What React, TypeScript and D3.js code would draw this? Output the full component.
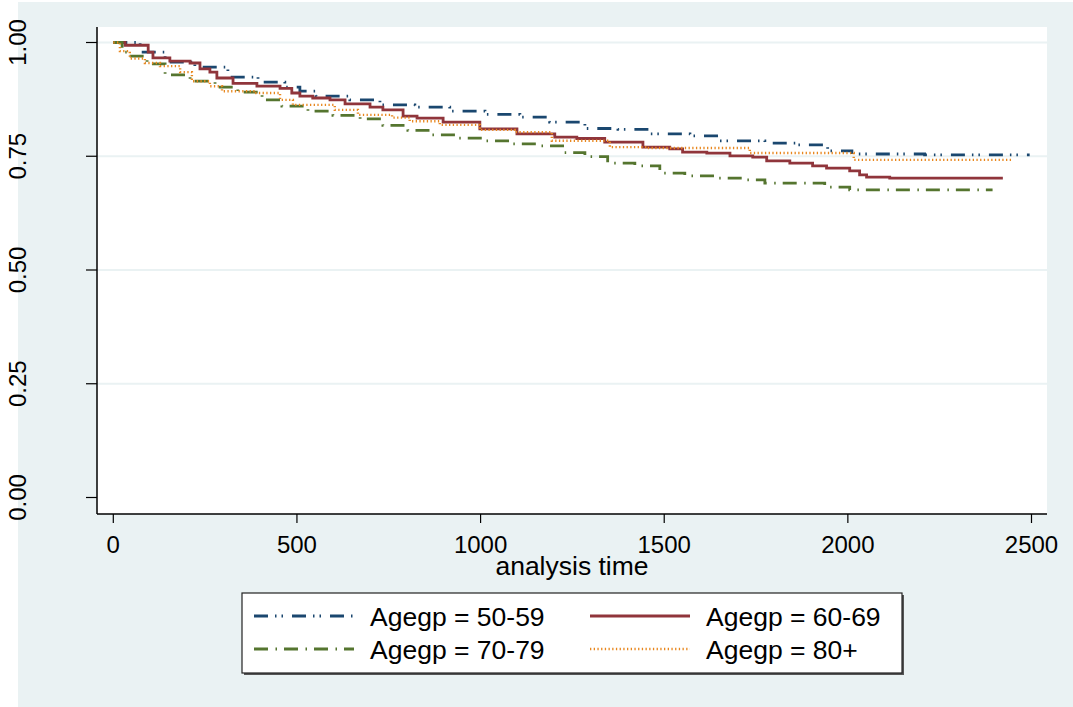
import * as d3 from "d3";

// Kaplan-Meier estimates: [analysis time, survival]
const km5059: [number, number][] = [
  [0, 1], [73, 0.979], [141, 0.957], [222, 0.946], [312, 0.924], [394, 0.913],
  [467, 0.902], [508, 0.893], [552, 0.882], [644, 0.874], [726, 0.863],
  [821, 0.858], [916, 0.849], [1012, 0.842], [1107, 0.836], [1188, 0.825],
  [1284, 0.811], [1374, 0.809], [1461, 0.799], [1570, 0.795], [1651, 0.784],
  [1774, 0.779], [1864, 0.775], [1945, 0.762], [2011, 0.755], [2209, 0.753],
  [2495, 0.753],
];
const km6069: [number, number][] = [
  [0, 1], [32, 0.994], [95, 0.979], [108, 0.966], [154, 0.959], [209, 0.955],
  [236, 0.942], [263, 0.935], [282, 0.922], [326, 0.91], [391, 0.904],
  [454, 0.899], [486, 0.889], [508, 0.882], [543, 0.878], [590, 0.874],
  [631, 0.865], [699, 0.858], [734, 0.852], [789, 0.838], [827, 0.834],
  [898, 0.825], [998, 0.81], [1099, 0.799], [1202, 0.792], [1262, 0.789],
  [1338, 0.781], [1442, 0.77], [1515, 0.766], [1550, 0.759], [1616, 0.757],
  [1679, 0.751], [1741, 0.748], [1779, 0.74], [1842, 0.735], [1904, 0.729],
  [1942, 0.724], [2005, 0.718], [2032, 0.709], [2051, 0.704], [2114, 0.702],
  [2422, 0.702],
];
const km7079: [number, number][] = [
  [0, 1], [24, 0.979], [37, 0.97], [92, 0.953], [141, 0.929], [209, 0.915],
  [277, 0.902], [339, 0.891], [405, 0.874], [459, 0.86], [530, 0.849],
  [598, 0.84], [672, 0.832], [734, 0.818], [802, 0.807], [867, 0.797],
  [938, 0.79], [1012, 0.784], [1085, 0.777], [1156, 0.773], [1229, 0.758],
  [1284, 0.749], [1346, 0.735], [1420, 0.729], [1488, 0.713], [1556, 0.707],
  [1638, 0.702], [1711, 0.698], [1774, 0.691], [1937, 0.682], [2005, 0.676],
  [2394, 0.676],
];
const km80: [number, number][] = [
  [0, 1], [18, 0.981], [45, 0.965], [86, 0.955], [127, 0.948], [182, 0.935],
  [214, 0.915], [263, 0.904], [296, 0.893], [386, 0.889], [454, 0.874],
  [489, 0.863], [603, 0.852], [666, 0.841], [759, 0.835], [807, 0.827],
  [889, 0.819], [998, 0.808], [1093, 0.803], [1194, 0.784], [1352, 0.77],
  [1455, 0.768], [1733, 0.757], [2016, 0.742], [2447, 0.742],
];

const xTicks = [0, 500, 1000, 1500, 2000, 2500];
const yTicks = [0, 0.25, 0.5, 0.75, 1];

const series = [
  { label: "Agegp = 50-59", data: km5059, color: "#1a476f", width: 2.8, dash: "14,7,1.5,5,1.5,9" },
  { label: "Agegp = 60-69", data: km6069, color: "#90353b", width: 2.8, dash: "" },
  { label: "Agegp = 70-79", data: km7079, color: "#55752f", width: 2.8, dash: "14,7.5,1.5,7" },
  { label: "Agegp = 80+", data: km80, color: "#e8871e", width: 2.4, dash: "1.3,2.4" },
];

const font = "'Liberation Sans', Arial, sans-serif";

export default function App() {
  const width = 1073;
  const height = 707;
  const plot = { left: 97, right: 1047, top: 27, bottom: 514 };

  const x = d3.scaleLinear([0, 2500], [113.3, 1031.5]);
  const y = d3.scaleLinear([0, 1], [497.5, 42.5]);

  const line = d3
    .line<[number, number]>()
    .x((d) => x(d[0]))
    .y((d) => y(d[1]))
    .curve(d3.curveStepAfter);

  const legendCols = [254, 590];
  const legendRows = [616, 649];

  return (
    <svg
      width={width}
      height={height}
      style={{ position: "absolute", left: 0, top: 0, fontFamily: font }}
    >
      <rect x={0} y={0} width={width} height={height} fill="#ffffff" />
      <rect x={18} y={2} width={width - 18} height={height - 2} fill="#eaf2f3" />
      <rect
        x={plot.left}
        y={plot.top}
        width={plot.right - plot.left}
        height={plot.bottom - plot.top}
        fill="#ffffff"
      />
      {yTicks
        .filter((t) => t > 0)
        .map((t) => (
          <line
            key={"g" + t}
            x1={plot.left}
            x2={plot.right}
            y1={y(t)}
            y2={y(t)}
            stroke="#eaf2f3"
            strokeWidth={2}
          />
        ))}

      {series.map((s) => (
        <path
          key={s.label}
          d={line(s.data) ?? ""}
          fill="none"
          stroke={s.color}
          strokeWidth={s.width}
          strokeDasharray={s.dash || undefined}
        />
      ))}

      {/* axes */}
      <line x1={plot.left} x2={plot.left} y1={plot.top} y2={plot.bottom} stroke="#000" strokeWidth={1.5} />
      <line x1={plot.left} x2={plot.right} y1={plot.bottom} y2={plot.bottom} stroke="#000" strokeWidth={1.5} />
      {yTicks.map((t) => (
        <g key={"y" + t}>
          <line x1={86} x2={plot.left} y1={y(t)} y2={y(t)} stroke="#000" strokeWidth={1.2} />
          <text
            transform={`translate(26,${y(t)}) rotate(-90)`}
            textAnchor="middle"
            fontSize={24}
            fill="#000"
          >
            {d3.format(".2f")(t)}
          </text>
        </g>
      ))}
      {xTicks.map((t) => (
        <g key={"x" + t}>
          <line x1={x(t)} x2={x(t)} y1={plot.bottom} y2={523} stroke="#000" strokeWidth={1.2} />
          <text x={x(t)} y={553} textAnchor="middle" fontSize={24} fill="#000">
            {t}
          </text>
        </g>
      ))}
      <text x={572} y={575} textAnchor="middle" fontSize={26.5} fill="#000">
        analysis time
      </text>

      {/* legend */}
      <rect x={244} y={595} width={660} height={80} fill="#555" />
      <rect x={242} y={593} width={660} height={80} fill="#fff" stroke="#222" strokeWidth={1.2} />
      {series.map((s, i) => {
        const cx = legendCols[i % 2];
        const cy = legendRows[Math.floor(i / 2)];
        return (
          <g key={"l" + s.label}>
            <line
              x1={cx}
              x2={cx + 100}
              y1={cy}
              y2={cy}
              stroke={s.color}
              strokeWidth={s.width}
              strokeDasharray={s.dash || undefined}
            />
            <text x={cx + 116} y={cy + 9.5} fontSize={26.5} fill="#000">
              {s.label}
            </text>
          </g>
        );
      })}
    </svg>
  );
}
